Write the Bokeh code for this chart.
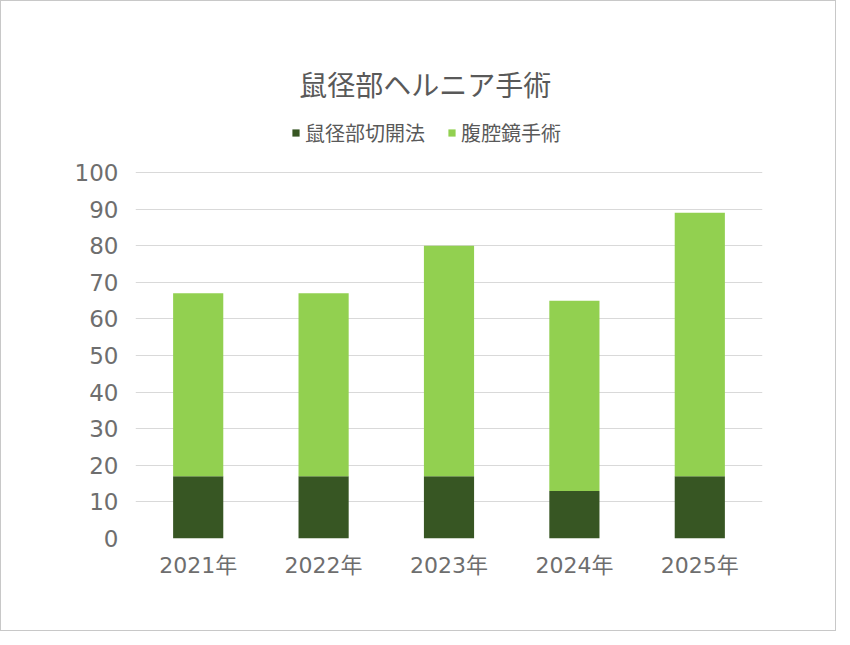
from bokeh.plotting import figure
from bokeh.models import FixedTicker, Label, Legend, Range1d, FactorRange
from bokeh.embed import file_html
from bokeh.resources import INLINE

years = ["2021年", "2022年", "2023年", "2024年", "2025年"]
open_surgery = [17, 17, 17, 13, 17]
laparoscopic = [50, 50, 63, 52, 72]
y_ticks = [0, 10, 20, 30, 40, 50, 60, 70, 80, 90, 100]
series_names = ["鼠径部切開法", "腹腔鏡手術"]
title_text = "鼠径部ヘルニア手術"

FONT = "Noto Sans CJK JP"
NUM_FONT = "DejaVu Sans, Noto Sans CJK JP"
TEXT = "#595959"
AXIS_TEXT = "#6e6e6e"

# frame extends above 100 so title and legend sit inside the (invisible) frame
p = figure(x_range=FactorRange(*years), y_range=Range1d(0, 132),
           width=834, height=629, frame_width=627, frame_height=483,
           min_border_left=134, min_border_right=73, min_border_top=54, min_border_bottom=92,
           output_backend="svg", toolbar_location=None, tools="")
p.styles = {"border": "1px solid #c8c8c8", "box-sizing": "border-box"}
p.outline_line_color = None
p.background_fill_color = "white"
p.border_fill_color = "white"

data = {"years": years, "open": open_surgery, "lap": laparoscopic}
renderers = p.vbar_stack(["open", "lap"], x="years", width=0.4, source=data,
                         color=["#375623", "#92d050"], line_color=None)

legend = Legend(items=[(series_names[0], [renderers[0]]), (series_names[1], [renderers[1]])],
                orientation="horizontal", location=(156, 391))
legend.label_text_font = FONT
legend.label_text_font_size = "20px"
legend.label_text_color = TEXT
legend.glyph_width = 9
legend.glyph_height = 9
legend.label_standoff = 5
legend.spacing = 22
legend.padding = 0
legend.margin = 0
legend.border_line_color = None
legend.background_fill_alpha = 0
legend.label_height = 20
p.add_layout(legend, "center")

p.yaxis.ticker = FixedTicker(ticks=y_ticks)
p.xgrid.grid_line_color = None
p.ygrid.grid_line_color = "#d9d9d9"
p.ygrid.grid_line_width = 1
for ax in (p.xaxis, p.yaxis):
    ax.axis_line_color = None
    ax.major_tick_line_color = None
    ax.minor_tick_line_color = None
    ax.major_label_text_font = NUM_FONT
    ax.major_label_text_color = AXIS_TEXT
p.yaxis.major_label_text_font_size = "23px"
p.xaxis.major_label_text_font_size = "22px"
p.yaxis.major_label_standoff = 11
p.xaxis.major_label_standoff = 8

title = Label(x=2.31, y=124.3, text=title_text, text_align="center", text_baseline="middle",
              text_font=FONT, text_font_size="28px", text_color=TEXT)
p.add_layout(title)

open("out.html", "w").write(file_html(p, INLINE))
